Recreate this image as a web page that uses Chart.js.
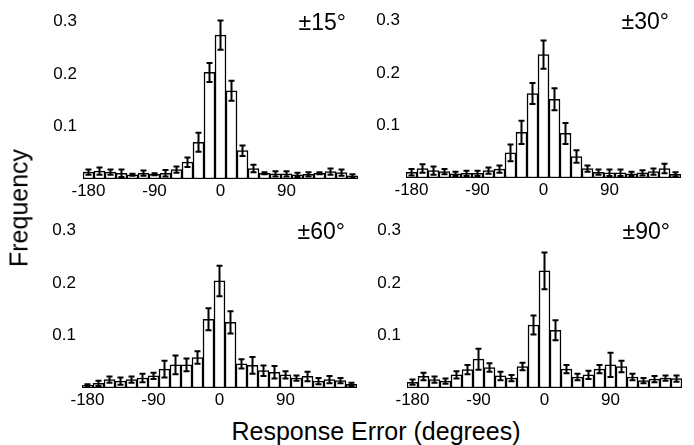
<!DOCTYPE html>
<html>
<head>
<meta charset="utf-8">
<script src="https://cdn.jsdelivr.net/npm/chart.js@4.4.1/dist/chart.umd.min.js"></script>
<style>
  html, body { margin: 0; padding: 0; background: #fff; overflow: hidden; }
  body { width: 694px; height: 445px; position: relative; font-family: "Liberation Sans", Arial, sans-serif; }
  canvas { position: absolute; }
  .axis-title { position: absolute; color: #000; font-size: 25px; white-space: nowrap; }
  #ytitle { left: 19px; top: 208px; transform: translate(-50%, -50%) rotate(-90deg); }
  #xtitle { left: 376px; top: 431px; transform: translate(-50%, -50%); }
</style>
</head>
<body>
<canvas id="c15" width="340" height="200" style="left:33px;top:4px"></canvas>
<canvas id="c30" width="340" height="200" style="left:356px;top:3px"></canvas>
<canvas id="c60" width="340" height="200" style="left:32px;top:213px"></canvas>
<canvas id="c90" width="340" height="200" style="left:357px;top:213px"></canvas>
<div class="axis-title" id="ytitle">Frequency</div>
<div class="axis-title" id="xtitle">Response Error (degrees)</div>

<script>
// bin centres (degrees)
const bins = ['-180', '-165', '-150', '-135', '-120', '-105', '-90', '-75', '-60', '-45', '-30', '-15',
              '0', '15', '30', '45', '60', '75', '90', '105', '120', '135', '150', '165', '180'];
const xTickLabels = ['-180', '-90', '0', '90'];
const yTicks = [0.1, 0.2, 0.3];

// ±15°
const freq15 = [0.013, 0.015, 0.013, 0.011, 0.008, 0.011, 0.009, 0.011, 0.018, 0.032, 0.070, 0.203,
                0.274, 0.168, 0.054, 0.020, 0.011, 0.010, 0.010, 0.008, 0.009, 0.011, 0.014, 0.012, 0.006];
const err15  = [0.005, 0.007, 0.005, 0.007, 0.002, 0.005, 0.002, 0.006, 0.006, 0.009, 0.018, 0.018,
                0.028, 0.019, 0.010, 0.007, 0.002, 0.005, 0.005, 0.004, 0.004, 0.002, 0.006, 0.006, 0.003];

// ±30°
const freq30 = [0.011, 0.018, 0.014, 0.012, 0.008, 0.009, 0.009, 0.014, 0.017, 0.048, 0.087, 0.161,
                0.235, 0.150, 0.085, 0.041, 0.018, 0.011, 0.010, 0.010, 0.008, 0.010, 0.012, 0.018, 0.007];
const err30  = [0.006, 0.008, 0.008, 0.005, 0.004, 0.005, 0.005, 0.006, 0.007, 0.016, 0.022, 0.020,
                0.027, 0.021, 0.020, 0.012, 0.006, 0.005, 0.006, 0.006, 0.004, 0.005, 0.006, 0.009, 0.004];

// ±60°
const freq60 = [0.005, 0.009, 0.016, 0.013, 0.016, 0.019, 0.023, 0.036, 0.044, 0.044, 0.058, 0.131,
                0.204, 0.125, 0.046, 0.043, 0.033, 0.030, 0.025, 0.019, 0.022, 0.013, 0.016, 0.014, 0.007];
const err60  = [0.002, 0.005, 0.006, 0.007, 0.006, 0.008, 0.006, 0.016, 0.018, 0.012, 0.012, 0.021,
                0.029, 0.021, 0.009, 0.016, 0.010, 0.012, 0.007, 0.005, 0.009, 0.006, 0.007, 0.005, 0.003];

// ±90°
const freq90 = [0.011, 0.022, 0.016, 0.013, 0.025, 0.035, 0.055, 0.039, 0.023, 0.019, 0.041, 0.120,
                0.223, 0.110, 0.036, 0.021, 0.025, 0.036, 0.044, 0.041, 0.021, 0.014, 0.017, 0.019, 0.018];
const err90  = [0.005, 0.007, 0.006, 0.005, 0.007, 0.009, 0.020, 0.008, 0.008, 0.006, 0.007, 0.018,
                0.035, 0.019, 0.008, 0.006, 0.008, 0.008, 0.023, 0.011, 0.006, 0.005, 0.006, 0.005, 0.006];

const panelLabels = ['±15°', '±30°', '±60°', '±90°'];

const tickFont = { family: '"Liberation Sans", Arial, sans-serif', size: 17 };

// error bars drawn from the dataset's "errors" array through the y scale
const errorBarPlugin = {
    id: 'errorBars',
    afterDatasetsDraw(chart) {
        const ds = chart.data.datasets[0];
        const meta = chart.getDatasetMeta(0);
        const yScale = chart.scales.y;
        const ctx = chart.ctx;
        ctx.save();
        ctx.strokeStyle = '#000';
        ctx.lineWidth = 2;
        meta.data.forEach((bar, i) => {
            const v = ds.data[i];
            const e = ds.errors[i];
            const top = yScale.getPixelForValue(v + e);
            const bottom = yScale.getPixelForValue(v - e);
            const x = bar.x;
            ctx.beginPath();
            ctx.moveTo(x, top);
            ctx.lineTo(x, bottom);
            ctx.moveTo(x - 3, top);
            ctx.lineTo(x + 3, top);
            ctx.moveTo(x - 3, bottom);
            ctx.lineTo(x + 3, bottom);
            ctx.stroke();
        });
        ctx.restore();
    }
};

// condition label in the top right corner of each panel
const panelLabelPlugin = {
    id: 'panelLabel',
    afterDraw(chart, args, opts) {
        const ctx = chart.ctx;
        ctx.save();
        ctx.fillStyle = '#000';
        ctx.font = '23px "Liberation Sans", Arial, sans-serif';
        ctx.textAlign = 'right';
        ctx.textBaseline = 'middle';
        ctx.fillText(opts.text, chart.chartArea.right - 12, chart.chartArea.top + 2);
        ctx.restore();
    }
};

function makePanel(canvasId, values, errors, label) {
    const ctx = document.getElementById(canvasId).getContext('2d');
    return new Chart(ctx, {
        type: 'bar',
        data: {
            labels: bins,
            datasets: [{
                data: values,
                errors: errors,
                backgroundColor: '#fff',
                borderColor: '#000',
                borderWidth: 1.5,
                borderSkipped: false,
                barPercentage: 1,
                categoryPercentage: 1
            }]
        },
        options: {
            responsive: false,
            animation: false,
            devicePixelRatio: 1,
            layout: { padding: { top: 17.5, right: 15, left: 0, bottom: 0 } },
            plugins: {
                legend: { display: false },
                tooltip: { enabled: false },
                panelLabel: { text: label }
            },
            scales: {
                x: {
                    type: 'category',
                    grid: { display: false, drawTicks: false },
                    border: { display: false },
                    ticks: {
                        autoSkip: false,
                        maxRotation: 0,
                        padding: 2,
                        color: '#000',
                        font: tickFont,
                        callback: function(val) {
                            const lbl = this.getLabelForValue(val);
                            return xTickLabels.includes(lbl) ? lbl : '';
                        }
                    },
                    afterFit: function(scale) { scale.height = 25; }
                },
                y: {
                    min: 0,
                    max: 0.3,
                    grid: { display: false, drawTicks: false },
                    border: { display: false },
                    ticks: {
                        padding: 6,
                        color: '#000',
                        font: tickFont,
                        callback: function(value) { return value.toFixed(1); }
                    },
                    afterBuildTicks: function(scale) {
                        scale.ticks = yTicks.map(v => ({ value: v }));
                    },
                    afterFit: function(scale) { scale.width = 50; }
                }
            }
        },
        plugins: [errorBarPlugin, panelLabelPlugin]
    });
}

makePanel('c15', freq15, err15, panelLabels[0]);
makePanel('c30', freq30, err30, panelLabels[1]);
makePanel('c60', freq60, err60, panelLabels[2]);
makePanel('c90', freq90, err90, panelLabels[3]);
</script>
</body>
</html>
